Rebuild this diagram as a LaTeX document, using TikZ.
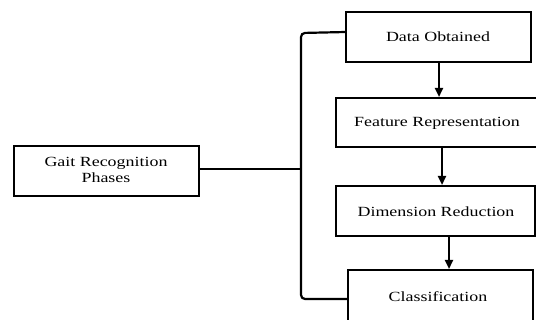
\documentclass[tikz,border=0pt]{standalone}
\usepackage{fontspec}
\setmainfont{Liberation Serif}
\usepackage{graphicx}
\usetikzlibrary{arrows.meta}
\newcommand{\wtext}[1]{\scalebox{1.28}[1]{#1}}
\begin{document}
\begin{tikzpicture}[x=1pt,y=-1pt,
  box/.style={draw=black,line width=2.2pt,fill=white,inner sep=0pt},
  lbl/.style={font=\fontsize{14}{16}\selectfont,align=center,inner sep=0pt},
  conn/.style={line width=2.2pt},
  arr/.style={line width=2.2pt,-{Triangle[length=9pt,width=8pt]}}]
\useasboundingbox (0,0) rectangle (536,320);
\clip (0,0) rectangle (536,320);
\fill[white] (0,0) rectangle (536,320);
% boxes
\draw[box] (346,12) rectangle (531,62);
\draw[box] (336,98) rectangle (540,147);
\draw[box] (336,186) rectangle (535,236);
\draw[box] (348,270) rectangle (533,324);
\draw[box] (14,146) rectangle (199,196);
\node[lbl] (data) at (438,37) {\wtext{Data Obtained}};
\node[lbl] (feat) at (437,123) {\wtext{Feature Representation}};
\node[lbl] (dim) at (436,212) {\wtext{Dimension Reduction}};
\node[lbl] (cls) at (438,297) {\wtext{Classification}};
\node[lbl,font=\fontsize{14}{15.5}\selectfont] (gait) at (106,170) {\wtext{Gait Recognition}\\\wtext{Phases}};
% named anchor coordinates
\coordinate (dataB) at (439,63);
\coordinate (featT) at (439,97);
\coordinate (featB) at (442,148);
\coordinate (dimT) at (442,185);
\coordinate (dimB) at (449,237);
\coordinate (clsT) at (449,269);
\coordinate (dataL) at (346,32);
\coordinate (clsL) at (348,299);
\coordinate (gaitR) at (199,169);
\coordinate (brT) at (301,33);
\coordinate (brM) at (301,169);
\coordinate (brB) at (301,299);
% arrows
\draw[arr] (dataB) -- (featT);
\draw[arr] (featB) -- (dimT);
\draw[arr] (dimB) -- (clsT);
% bracket
\draw[conn,rounded corners=4pt] (dataL) -- (brT) -- (brB) -- (clsL);
\draw[conn] (gaitR) -- (brM);
\end{tikzpicture}
\end{document}
